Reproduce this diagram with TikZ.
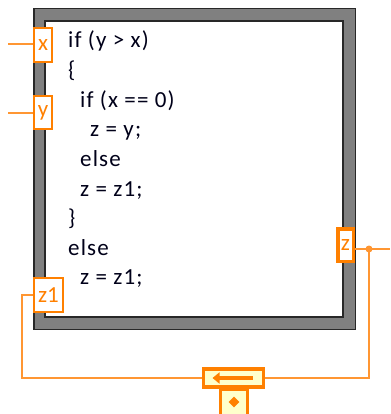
\documentclass[tikz,border=0pt]{standalone}
\usepackage{fontspec}
\setmainfont{Carlito}
\newfontfamily\codefont[LetterSpace=5]{Carlito}
\usepackage{tikz}
\usetikzlibrary{arrows.meta,positioning,shapes.geometric}
\definecolor{lvorange}{RGB}{255,128,0}
\definecolor{lvwire}{RGB}{255,150,50}
\definecolor{lvyellow}{RGB}{255,255,204}
\definecolor{lvgray}{RGB}{128,128,128}
\definecolor{lvdark}{RGB}{40,40,40}
\tikzset{
  code/.style={anchor=base west,inner sep=0pt,font=\codefont\fontsize{23}{26}\selectfont,text=black!90!blue},
  tunnel/.style={draw=lvorange,line width=2pt,fill=white,inner sep=0pt,text=lvorange,font=\fontsize{23}{26}\selectfont},
  wire/.style={draw=lvwire,line width=2pt},
  srbox/.style={draw=lvorange,line width=3.5pt,fill=lvyellow,inner sep=0pt}
}

\begin{document}
\begin{tikzpicture}[x=1pt,y=-1pt]
\useasboundingbox (0,0) rectangle (390,414);
% structure frame
\draw[lvdark,line width=1.5pt,fill=lvgray] (33.75,8.75) rectangle (355.25,329.25);
\draw[lvdark,line width=2pt,fill=white] (45,21) rectangle (343,317);

% formula text
\node[code] (l1) at (68,48) {if (y > x)};
\node[code] (l2) at (68,77.6) {\{};
\node[code] (l3) at (80,107.2) {if (x == 0)};
\node[code] (l4) at (90,136.8) {z = y;};
\node[code] (l5) at (80,166.4) {else};
\node[code] (l6) at (80,196) {z = z1;};
\node[code] (l7) at (68,225.6) {\}};
\node[code] (l8) at (68,255.2) {else};
\node[code] (l9) at (80,284.8) {z = z1;};

% tunnels
\node[tunnel,minimum width=18pt,minimum height=34pt] (tx) at (43,45) {x};
\node[tunnel,minimum width=18pt,minimum height=33pt] (ty) at (43,112.5) {y};
\node[tunnel,minimum width=29pt,minimum height=34pt] (tz1) at (48.5,295) {z1};
\node[tunnel,line width=3.5pt,minimum width=15.5pt,minimum height=32.5pt] (tz) at (345.5,245) {z};

% shift register
\node[srbox,minimum width=27pt,minimum height=30pt,anchor=north] (srb) at (234,387) {};
\node[srbox,minimum width=60pt,minimum height=18pt] (sr) at (233.5,378) {};
\node[diamond,fill=lvorange,minimum size=11pt,inner sep=0pt] (dm) at (234,402) {};
\draw[lvorange,line width=4pt,-{Triangle[length=7pt,width=11pt]}] ([xshift=19pt]sr.center) -- ([xshift=-21pt]sr.center);

% wires
\coordinate (xin) at (8,44);
\coordinate (yin) at (8,113);
\coordinate (lc) at (22,378);
\coordinate (zout) at (390,249);
\coordinate (jn) at (369,249);
\draw[wire] (xin) -- (xin -| tx.west);
\draw[wire] (yin) -- (yin -| ty.west);
\draw[wire] (tz1.west) -| (lc) -- (sr.west);
\draw[wire] ([yshift=-4pt]tz.east) -- (zout);
\draw[wire] (jn) |- (sr.east);
\fill[lvwire] (jn) circle (3.5pt);

\end{tikzpicture}
\end{document}
